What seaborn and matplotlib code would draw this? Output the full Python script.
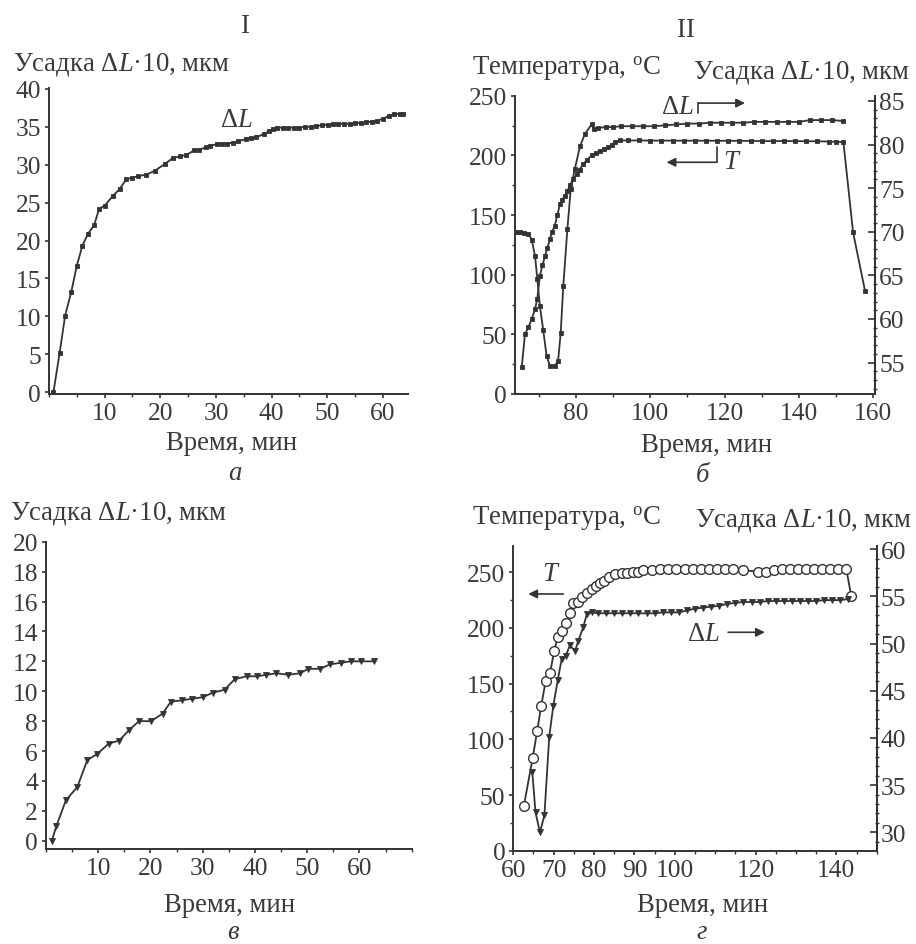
import matplotlib
matplotlib.use("Agg")
import matplotlib.pyplot as plt
from matplotlib.ticker import MultipleLocator, FixedLocator
from matplotlib.lines import Line2D
import seaborn as sns

# panel a: shrinkage vs time
a_time = [0.8, 1.9, 2.9, 4.0, 5.0, 6.0, 7.0, 8.1, 9.0, 10.0, 11.5, 12.7, 13.9, 15.0, 16.0,
          17.5, 19.0, 20.8, 22.3, 23.5, 24.7, 26.1, 27.0, 28.2, 29.0, 30.1, 31.0, 32.0, 33.0, 34.0,
          35.4, 36.3, 37.2, 38.7, 39.5, 40.3, 41.0, 42.0, 43.0, 44.0, 45.0, 46.0, 47.0, 48.0, 49.0,
          50.2, 51.0, 52.0, 53.0, 54.0, 55.0, 56.0, 57.0, 58.0, 59.0, 60.0, 61.0, 62.0, 63.0, 63.6]
a_shrink = [0.0, 5.1, 10.1, 13.2, 16.7, 19.3, 20.9, 22.0, 24.2, 24.6, 25.9, 26.8, 28.1, 28.3, 28.5,
            28.7, 29.2, 30.1, 30.9, 31.1, 31.3, 31.9, 32.0, 32.3, 32.5, 32.7, 32.8, 32.8, 32.9, 33.1,
            33.4, 33.5, 33.6, 34.1, 34.4, 34.7, 34.9, 34.9, 34.9, 34.9, 34.9, 35.0, 35.0, 35.1, 35.2,
            35.3, 35.4, 35.4, 35.4, 35.4, 35.5, 35.5, 35.6, 35.7, 35.8, 36.1, 36.4, 36.7, 36.7, 36.7]

# panel б: temperature (left) and shrinkage (right)
b_t_time = [65.4, 66.3, 67.2, 68.1, 69.0, 69.6, 70.3, 71.0, 71.7, 72.3, 73.0, 73.6, 74.3, 75.0, 75.7,
            76.3, 77.0, 77.7, 78.4, 79.3, 80.2, 81.0, 82.0, 83.0, 84.2, 85.3, 86.5, 87.6, 88.7, 89.6,
            90.5, 91.8, 94, 97, 100, 103, 106, 109, 112, 115, 118, 121, 124, 127, 130,
            133, 136, 139, 142, 145, 148, 150, 152, 154.6, 157.8]
b_temp = [22.4, 50.3, 55.9, 62.9, 71.2, 80.0, 99.0, 108.0, 116.0, 122.0, 130.0, 136.0, 141.0, 150.0, 159.0,
          163.0, 166.0, 170.0, 175.0, 180.0, 184.0, 188.0, 193.0, 196.0, 200.0, 202.0, 204.0, 205.0, 207.0, 209.0,
          211.0, 212.5, 212.5, 212.5, 212.4, 212.4, 212.3, 212.3, 212.3, 212.3, 212.2, 212.2, 212.2, 212.1, 212.0,
          212.0, 212.0, 212.0, 211.8, 211.8, 211.6, 211.4, 211.0, 135.5, 86.6]
b_dl_time = [64.0, 65.0, 66.0, 67.2, 68.1, 69.0, 69.6, 70.3, 71.2, 72.1, 73.0, 74.3, 75.2, 75.9, 76.6,
             77.7, 78.6, 79.7, 81.1, 82.4, 84.2, 84.8, 86.0, 88, 90, 92, 95, 98, 101, 104,
             107, 110, 113, 116, 119, 122, 125, 128, 131, 134, 137, 140, 143, 146, 149, 152]
b_dl = [70.0, 70.0, 69.9, 69.8, 69.1, 67.2, 64.6, 61.5, 58.7, 55.8, 54.6, 54.6, 55.2, 58.4, 63.8,
        70.3, 74.9, 77.2, 79.8, 81.2, 82.3, 81.8, 81.9, 82.0, 82.0, 82.1, 82.1, 82.1, 82.1, 82.2,
        82.3, 82.4, 82.4, 82.5, 82.5, 82.5, 82.5, 82.6, 82.6, 82.6, 82.6, 82.6, 82.8, 82.8, 82.8, 82.7]

# panel в: shrinkage vs time
c_time = [1.1, 2.0, 3.8, 6.0, 7.9, 9.8, 12.0, 14.0, 15.9, 17.8, 20.1, 22.3, 23.9, 26.1, 28.0, 30.0,
          31.9, 34.2, 36.1, 38.4, 40.3, 42.2, 44.1, 46.4, 48.6, 50.2, 52.5, 54.4, 56.4, 58.3, 60.2, 62.8]
c_shrink = [0.0, 1.0, 2.7, 3.6, 5.4, 5.8, 6.5, 6.7, 7.4, 8.0, 8.0, 8.5, 9.3, 9.4, 9.5, 9.6,
            9.9, 10.1, 10.8, 11.0, 11.0, 11.1, 11.2, 11.1, 11.2, 11.5, 11.5, 11.8, 11.9, 12.0, 12.0, 12.0]

# panel г: temperature (left, open circles) and shrinkage (right)
d_t_time = [62.6, 64.8, 65.9, 66.9, 68.0, 69.1, 70.1, 71.0, 72.1, 73.0, 74.0, 74.8, 76.1, 77.1, 78.2,
            79.4, 80.5, 81.5, 82.5, 83.8, 85.2, 86.8, 88.2, 89.7, 90.9, 92.2, 94.3, 96.3, 98.4, 100.4,
            102.5, 104.5, 106.5, 108.5, 110.5, 112.5, 114.5, 116.8, 120.5, 122.5, 124.5, 126.5, 128.5, 130.5,
            132.5, 134.5, 136.5, 138.5, 140.5, 142.5, 143.7]
d_temp = [39.9, 83.2, 107.2, 129.7, 152.1, 159.3, 179.0, 191.6, 197.6, 204.5, 213.2, 222.2, 223.6, 227.5, 231.4,
          235.0, 238.0, 240.4, 242.5, 245.5, 248.5, 249.4, 249.4, 250.0, 250.6, 252.0, 252.4, 253.0, 253.0, 253.0,
          253.0, 253.0, 253.0, 253.0, 253.0, 253.0, 253.0, 252.0, 250.5, 250.5, 252.0, 253.0, 253.0, 253.0,
          253.0, 253.0, 253.0, 253.0, 253.0, 252.5, 228.4]
d_dl_time = [64.7, 65.5, 66.6, 67.7, 68.9, 69.9, 71.0, 72.0, 73.0, 74.0, 75.3, 76.1, 77.3, 78.2, 79.4,
             81, 83, 85, 87, 89, 91, 93, 95, 97, 99, 101, 103, 105, 107, 109,
             111, 113, 115, 117, 119, 121, 123, 125, 127, 129, 131, 133, 135, 137, 139, 141, 142.8]
d_dl = [36.4, 32.1, 30.0, 31.8, 40.1, 43.4, 46.1, 48.4, 48.7, 49.8, 49.2, 50.3, 51.7, 53.1, 53.3,
        53.2, 53.2, 53.2, 53.2, 53.2, 53.2, 53.2, 53.2, 53.3, 53.3, 53.3, 53.5, 53.7, 53.8, 53.9,
        54.0, 54.2, 54.3, 54.4, 54.4, 54.4, 54.5, 54.5, 54.5, 54.5, 54.5, 54.5, 54.5, 54.6, 54.6, 54.6, 54.7]

shrink_label = "Усадка $\\Delta L$·10, мкм"
temp_label = "Температура, $^{\\rm o}$C"
time_label = "Время, мин"

sns.set_theme(style="ticks")
plt.rcParams['font.family'] = ['Liberation Serif', 'DejaVu Serif']
plt.rcParams['mathtext.fontset'] = 'custom'
plt.rcParams['mathtext.rm'] = 'Liberation Serif'
plt.rcParams['mathtext.it'] = 'Liberation Serif:italic'

ink = "#333333"
txt = "#3a3a3a"
FS = 19.3     # labels
TS = 18.4     # tick labels
W, H = 916, 945

fig = plt.figure(figsize=(W / 100, H / 100), dpi=100)


def px_axes(left, top, right, bottom):
    return fig.add_axes([left / W, 1 - bottom / H, (right - left) / W, (bottom - top) / H])


def px_text(x, y, s, **kw):
    # y is the text baseline in pixels from the top
    kw.setdefault("fontsize", FS)
    kw.setdefault("color", txt)
    kw.setdefault("va", "baseline")
    fig.text(x / W, 1 - y / H, s, **kw)


def style(ax, right=False):
    for side in ["top"] + ([] if right else ["right"]):
        ax.spines[side].set_visible(False)
    for sp in ax.spines.values():
        sp.set_linewidth(1.4)
        sp.set_color(ink)
    ax.tick_params(which="major", length=3.2, width=1.2, labelsize=TS, colors=ink, labelcolor=txt)
    ax.tick_params(which="minor", length=2.4, width=1.0, colors=ink)
    ax.tick_params(axis="y", pad=2.5)
    ax.tick_params(axis="x", pad=2.5)
    ax.set_xlabel("")
    ax.set_ylabel("")


def style_right(ax2):
    ax2.spines["top"].set_visible(False)
    ax2.spines["left"].set_visible(False)
    ax2.spines["bottom"].set_visible(False)
    ax2.spines["right"].set_linewidth(1.4)
    ax2.spines["right"].set_color(ink)
    ax2.yaxis.set_major_locator(MultipleLocator(5))
    ax2.yaxis.set_minor_locator(MultipleLocator(1))
    ax2.tick_params(axis="y", which="major", direction="in", length=5, width=1.2,
                    labelsize=TS, colors=ink, labelcolor=txt, pad=3)
    ax2.tick_params(axis="y", which="minor", direction="inout", length=3, width=1.0, colors=ink)
    ax2.set_ylabel("")


def line(ax, x, y, **kw):
    sns.lineplot(x=x, y=y, ax=ax, color=ink, linewidth=1.3, estimator=None,
                 markeredgecolor=ink, **kw)


arrow = dict(arrowstyle="-|>", color=ink, lw=1.2, mutation_scale=13, shrinkA=0, shrinkB=0)

# ---- panel a ----
ax_a = px_axes(49, 89, 408, 395)
line(ax_a, a_time, a_shrink, marker="s", markersize=2.5, markeredgewidth=0.6)
ax_a.set_xlim(0, 64.5)
ax_a.set_ylim(-0.26, 40.13)
ax_a.xaxis.set_major_locator(FixedLocator([10, 20, 30, 40, 50, 60]))
ax_a.xaxis.set_minor_locator(MultipleLocator(5))
ax_a.yaxis.set_major_locator(MultipleLocator(5))
style(ax_a)
ax_a.text(33.6, 36.0, "$\\Delta L$", fontsize=FS, color=txt, ha="center", va="center")

# ---- panel б ----
ax_b = px_axes(515, 96.7, 875, 395)
line(ax_b, b_t_time, b_temp, marker="s", markersize=2.5, markeredgewidth=0.6)
ax_b.set_xlim(63.6, 160.5)
ax_b.set_ylim(0, 250)
ax_b.xaxis.set_major_locator(MultipleLocator(20))
ax_b.xaxis.set_minor_locator(MultipleLocator(10))
ax_b.yaxis.set_major_locator(MultipleLocator(50))
ax_b.yaxis.set_minor_locator(MultipleLocator(25))
style(ax_b, right=True)
ax_b2 = ax_b.twinx()
line(ax_b2, b_dl_time, b_dl, marker="s", markersize=2.5, markeredgewidth=0.6)
ax_b2.set_ylim(51.4, 85.6)
style_right(ax_b2)
ax_b.text(107.2, 240.6, "$\\Delta L$", fontsize=FS, color=txt, ha="center", va="center")
ax_b.add_line(Line2D([112.9, 112.9, 113.2], [235.4, 243.8, 243.8], color=ink, lw=1.2))
ax_b.annotate("", xy=(125.5, 243.8), xytext=(112.9, 243.8), arrowprops=arrow)
ax_b.add_line(Line2D([117.9, 117.9], [206.8, 194.2], color=ink, lw=1.2))
ax_b.annotate("", xy=(104.4, 194.2), xytext=(117.9, 194.2), arrowprops=arrow)
ax_b.text(119.5, 194.5, "$T$", fontsize=FS, color=txt, ha="left", va="center")

# ---- panel в ----
ax_c = px_axes(46, 542.7, 411.7, 850)
line(ax_c, c_time, c_shrink, marker="v", markersize=4, markeredgewidth=0.6)
ax_c.set_xlim(0, 70)
ax_c.set_ylim(-0.55, 20)
ax_c.xaxis.set_major_locator(FixedLocator([10, 20, 30, 40, 50, 60]))
ax_c.xaxis.set_minor_locator(MultipleLocator(5))
ax_c.yaxis.set_major_locator(MultipleLocator(2))
style(ax_c)

# ---- panel г ----
ax_d = px_axes(513.3, 547.3, 876.7, 851.7)
line(ax_d, d_t_time, d_temp, marker="o", markersize=7, markerfacecolor="white", markeredgewidth=1.0)
ax_d.set_xlim(60, 150)
ax_d.set_ylim(0, 273.3)
ax_d.xaxis.set_major_locator(FixedLocator([60, 70, 80, 90, 100, 120, 140]))
ax_d.xaxis.set_minor_locator(MultipleLocator(5))
ax_d.yaxis.set_major_locator(MultipleLocator(50))
ax_d.yaxis.set_minor_locator(MultipleLocator(25))
style(ax_d, right=True)
ax_d2 = ax_d.twinx()
line(ax_d2, d_dl_time, d_dl, marker="v", markersize=4, markeredgewidth=0.6)
ax_d2.set_ylim(28.05, 60.3)
style_right(ax_d2)
ax_d.text(69.5, 248.5, "$T$", fontsize=FS, color=txt, ha="center", va="center")
ax_d.annotate("", xy=(63.7, 230.5), xytext=(72.4, 230.5), arrowprops=arrow)
ax_d.text(107.2, 194.6, "$\\Delta L$", fontsize=FS, color=txt, ha="center", va="center")
ax_d.annotate("", xy=(122.3, 196.1), xytext=(113.2, 196.1), arrowprops=arrow)

# ---- figure texts (baselines in px) ----
px_text(246, 33, "I", ha="center")
px_text(686, 37, "II", ha="center")

px_text(13, 70, shrink_label, ha="left")
px_text(232, 450, time_label, ha="center")
px_text(235, 480, "а", ha="center", style="italic")

px_text(471.7, 75, temp_label, ha="left")
px_text(910, 78, shrink_label, ha="right")
px_text(707, 452, time_label, ha="center")
px_text(703, 482, "б", ha="center", style="italic")

px_text(10, 520, shrink_label, ha="left")
px_text(230, 912, time_label, ha="center")
px_text(233, 939, "в", ha="center", style="italic")

px_text(471.7, 525, temp_label, ha="left")
px_text(911.7, 527, shrink_label, ha="right")
px_text(703, 912, time_label, ha="center")
px_text(702, 939, "г", ha="center", style="italic")

fig.savefig("out.png", dpi=100, facecolor="white")
